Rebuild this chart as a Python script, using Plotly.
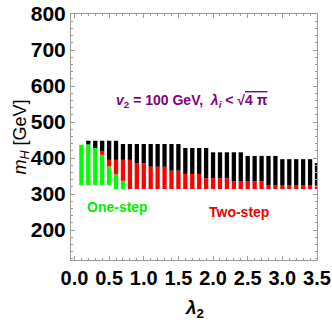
import plotly.graph_objects as go

# Data: phase transition regions vs lambda_2
lam2 = [0.1, 0.2, 0.3, 0.4, 0.5, 0.6, 0.7, 0.8, 0.9, 1.0,
        1.1, 1.2, 1.3, 1.4, 1.5, 1.6, 1.7, 1.8, 1.9, 2.0,
        2.1, 2.2, 2.3, 2.4, 2.5, 2.6, 2.7, 2.8, 2.9, 3.0,
        3.1, 3.2, 3.3, 3.4, 3.5]
m_low = [325, 325, 325, 325, 325, 314, 314, 314, 314, 314,
         314, 314, 314, 314, 314, 314, 314, 314, 314, 314,
         314, 314, 314, 314, 314, 314, 314, 314, 314, 314,
         314, 314, 314, 314, 314]
# top of the one-step (green) band
one_step_top = [437, 438, 428, 409, 377, 355, 337, 314, 314, 314,
                314, 314, 314, 314, 314, 314, 314, 314, 314, 314,
                314, 314, 314, 314, 314, 314, 314, 314, 314, 314,
                314, 314, 314, 314, 314]
# top of the two-step (red) band
two_step_top = [437, 438, 428, 419, 395, 395, 395, 395, 386, 386,
                376, 376, 376, 365, 365, 356, 356, 356, 344, 344,
                344, 344, 335, 335, 335, 335, 335, 325, 325, 325,
                325, 325, 325, 325, 325]
# top of the allowed (black) region
m_top = [437, 448, 448, 448, 448, 448, 439, 439, 439, 439,
         439, 439, 439, 439, 439, 428, 428, 428, 428, 416,
         416, 416, 416, 416, 406, 406, 406, 406, 406, 397,
         397, 397, 397, 397, 386]

green_h = [b - a for a, b in zip(m_low, one_step_top)]
red_h = [b - a for a, b in zip(one_step_top, two_step_top)]
black_h = [b - a for a, b in zip(two_step_top, m_top)]

bw = 0.062
fig = go.Figure()
fig.add_trace(go.Bar(x=lam2, y=green_h, base=m_low, width=bw,
                     marker=dict(color='#00ff00', line_width=0)))
fig.add_trace(go.Bar(x=lam2, y=red_h, base=one_step_top, width=bw,
                     marker=dict(color='#ff0000', line_width=0)))
fig.add_trace(go.Bar(x=lam2, y=black_h, base=two_step_top, width=bw,
                     marker=dict(color='#000000', line_width=0)))

fig.add_annotation(x=0.62, y=264, text='One-step', showarrow=False,
                   font=dict(size=14, color='#00ee00', weight='bold'))
fig.add_annotation(x=2.37, y=250, text='Two-step', showarrow=False,
                   font=dict(size=14, color='#ee0000', weight='bold'))
fig.add_annotation(x=1.70, y=558, showarrow=False,
                   text='<i>v</i><sub>2</sub> = 100 GeV,  <i>λ<sub>i</sub></i> &lt; √<span style="text-decoration:overline">4 π</span>',
                   font=dict(size=14, color='#800080', weight='bold'))

# axis titles
fig.add_annotation(xref='paper', yref='paper', x=0.5, y=-0.2, yanchor='middle',
                   text='<i>λ</i><sub>2</sub>', showarrow=False,
                   font=dict(size=19, weight='bold'))
fig.add_annotation(xref='paper', yref='paper', x=-0.26, y=0.5, xanchor='left',
                   textangle=-90, text='<i>m</i><sub><i>H</i></sub> [GeV]', showarrow=False,
                   font=dict(size=18))

fig.update_layout(
    width=332, height=320,
    margin=dict(l=71, r=15, t=14, b=60),
    plot_bgcolor='white', paper_bgcolor='white',
    showlegend=False, barmode='overlay',
    font=dict(family='Liberation Sans, Arial', color='black'),
)
fig.update_xaxes(
    automargin=False, ticklabeloverflow='allow',
    range=[-0.05, 3.5], tickvals=[0, 0.5, 1, 1.5, 2, 2.5, 3, 3.5],
    ticktext=['0.0', '0.5', '1.0', '1.5', '2.0', '2.5', '3.0', '3.5'],
    tickfont=dict(size=20, weight='bold'),
    showline=True, mirror='allticks', linecolor='#9a9a9a', linewidth=1,
    ticks='inside', ticklen=4, tickcolor='#9a9a9a',
    minor=dict(ticks='inside', dtick=0.1, tick0=0, ticklen=2, tickcolor='#9a9a9a'),
    showgrid=False, zeroline=False,
)
fig.update_yaxes(
    automargin=False, ticklabeloverflow='allow',
    range=[117, 800], dtick=100, tick0=0,
    tickfont=dict(size=21, weight='bold'),
    showline=True, mirror='allticks', linecolor='#9a9a9a', linewidth=1,
    ticks='inside', ticklen=4, tickcolor='#9a9a9a',
    minor=dict(ticks='inside', dtick=20, ticklen=2, tickcolor='#9a9a9a'),
    showgrid=False, zeroline=False,
)

# drop the default page margin so the figure fills the window
fig.write_html("out.html", config={'displayModeBar': False},
               post_script="document.body.style.margin='0';")
